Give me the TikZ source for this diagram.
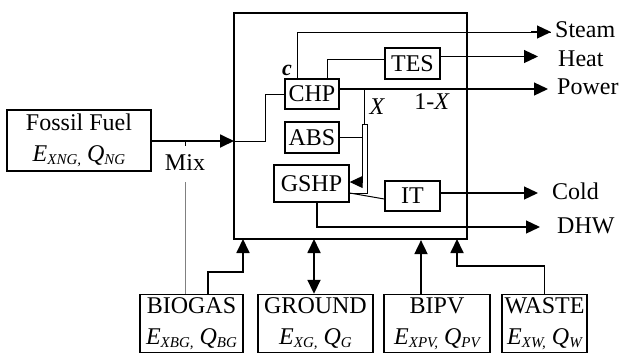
\documentclass[tikz,border=0pt]{standalone}
\usepackage{fontspec}
\setmainfont{Liberation Serif}
\usetikzlibrary{arrows.meta,calc}
\newcommand\sbs[1]{\raisebox{-0.3ex}{\fontsize{15}{15}\selectfont\itshape #1}}
\begin{document}
\begin{tikzpicture}[x=1pt,y=-1pt,
  every node/.style={font=\fontsize{24}{31}\selectfont},
  box/.style={draw,line width=1.4pt,inner sep=0pt,align=center},
  sysbox/.style={draw,line width=2.2pt,inner sep=0pt},
  inner/.style={line width=1pt},
  outarr/.style={line width=1.3pt,-{Triangle[length=14pt,width=13pt]}},
  inarr/.style={line width=1.8pt,-{Triangle[length=14pt,width=13pt]}},
  lbl/.style={anchor=west,inner sep=0pt}]
\useasboundingbox (0,0) rectangle (619,354);
% main system box
\node[sysbox,minimum width=233pt,minimum height=226pt] (sys) at (350.5,126) {};
% inner components
\node[box,minimum width=54pt,minimum height=30pt] (chp) at (312,94) {CHP};
\node[box,minimum width=55pt,minimum height=31pt] (tes) at (412.5,63.5) {TES};
\node[box,minimum width=54pt,minimum height=31pt] (abs) at (312,137.5) {ABS};
\node[box,minimum width=75pt,minimum height=37pt] (gshp) at (311.5,183.5) {GSHP};
\node[box,minimum width=55pt,minimum height=30pt] (it) at (412.5,196) {IT};
% external sources
\node[box,minimum width=144pt,minimum height=61pt] (ff) at (79,140.5) {Fossil Fuel\\\textit{E}\sbs{XNG,} \textit{Q}\sbs{NG}};
\node[box,minimum width=103pt,minimum height=58pt] (bg) at (191.5,323.5) {BIOGAS\\\textit{E}\sbs{XBG,} \textit{Q}\sbs{BG}};
\node[box,minimum width=115pt,minimum height=58pt] (gr) at (315.5,323.5) {GROUND\\\textit{E}\sbs{XG,} \textit{Q}\sbs{G}};
\node[box,minimum width=106pt,minimum height=58pt] (bp) at (437,323.5) {BIPV\\\textit{E}\sbs{XPV,} \textit{Q}\sbs{PV}};
\node[box,minimum width=85pt,minimum height=58pt] (ws) at (544.5,323.5) {WASTE\\\textit{E}\sbs{XW,} \textit{Q}\sbs{W}};
% output labels
\node[lbl] (steam) at (555,30) {Steam};
\node[lbl] (heat) at (558,59) {Heat};
\node[lbl] (power) at (557,87) {Power};
\node[lbl] (cold) at (552,191) {Cold};
\node[lbl] (dhw) at (557,226) {DHW};
% other labels
\node[font=\fontsize{22}{22}\selectfont\itshape\bfseries] (c) at (287,70) {c};
\node[font=\fontsize{24}{24}\selectfont\itshape] (x) at (377,107) {X};
\node (onemx) at (432,102) {1-\textit{X}};
\node (mix) at (185,163) {Mix};
% coordinates
\coordinate (fin) at (234,141);
\coordinate (xtop) at (364,89);
\coordinate (tl) at (362,124);
\coordinate (tr) at (367,124);
% outputs
\draw[inner] ([xshift=-15pt]chp.north) |- ([xshift=-4pt]steam.west |- 0,32) coordinate (se);
\draw[outarr] (se) ++(-20,0) -- (se);
\draw[inner] ([xshift=15pt]chp.north) |- ([yshift=4pt]tes.west);
\draw[outarr] ([yshift=7pt]tes.east) -- ([xshift=-20pt,yshift=7pt]tes.east -| heat.west);
\draw[outarr] ([yshift=5pt]chp.east) -- ([xshift=-9pt]power.west |- 0,89);
\draw[outarr] ([yshift=3pt]it.east) -- ([xshift=-14pt,yshift=3pt]it.east -| cold.west);
\draw[outarr] ([xshift=5.5pt]gshp.south) |- ([xshift=-17pt]dhw.west |- 0,227);
% X branch
\draw[inner] (xtop) -- (364,124);
\draw[inner] (tl) -- (tr);
\draw[inner] ([yshift=0.5pt]abs.east) -- (tl |- 0,137);
\draw[inner,-{Triangle[length=13pt,width=12pt]}] (tl) |- ([yshift=1.5pt]gshp.east);
\draw[inner] (tr) |- ([yshift=-9.5pt]gshp.east);
\draw[inner] ([yshift=-9.5pt]gshp.east) -- ([yshift=-3pt]it.west);
% fuel input
\draw[inarr] (ff.east |- fin) -- (fin);
\draw[inner] (fin) -- (265,141) |- (chp.west);
\draw[line width=0.8pt] (185,141) -- (185,146);
\draw[line width=0.6pt,gray] (185,182) -- (bg.north -| 185,0);
% bottom inputs
\draw[inarr] ([xshift=16.5pt]bg.north) -- ++(0,-22) -| (243,239);
\draw[line width=1.8pt,{Triangle[length=14pt,width=13pt]}-{Triangle[length=14pt,width=13pt]}] (314,239) -- (gr.north -| 314,0);
\draw[inarr] ([xshift=-16pt]bp.north) -- ([xshift=-16pt]bp.north |- sys.south);
\draw[inarr] (ws.north) -- ++(0,-28) -| (457,239);
\end{tikzpicture}
\end{document}
